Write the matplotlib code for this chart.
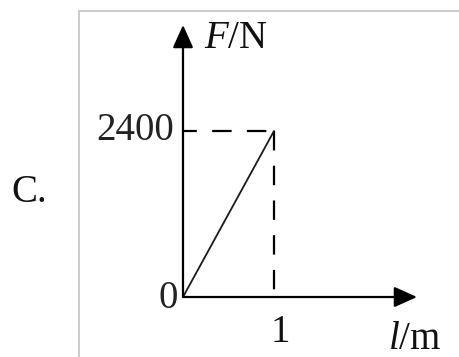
import matplotlib
matplotlib.use("Agg")
import matplotlib.pyplot as plt
from matplotlib.lines import Line2D

# Force-extension data: F grows linearly from 0 to 2400 N over 1 m
length_m = [0, 1]
force_n = [0, 2400]
x_tick_labels = ["1"]
y_tick_labels = ["2400"]
origin_label = "0"
option_label = "C."

plt.rcParams["font.family"] = ["Liberation Serif", "DejaVu Serif"]
plt.rcParams["mathtext.fontset"] = "custom"
plt.rcParams["mathtext.rm"] = "Liberation Serif"
plt.rcParams["mathtext.it"] = "Liberation Serif:italic"
plt.rcParams["lines.scale_dashes"] = False

W, H, DPI = 459, 357, 100
fig = plt.figure(figsize=(W / DPI, H / DPI), dpi=DPI)
fig.patch.set_facecolor("white")

# pixel geometry of the plot frame
ox, oy = 183, 297          # origin in pixels (from top-left)
px_per_x = 91              # pixels per metre
px_per_y = 166 / 2400      # pixels per newton

ax = fig.add_axes([0, 0, 1, 1])
ax.set_xlim((0 - ox) / px_per_x, (W - ox) / px_per_x)
ax.set_ylim((oy - H) / px_per_y, (oy - 0) / px_per_y)
ax.axis("off")

def px(x):
    return (x - ox) / px_per_x

def py(y):
    return (oy - y) / px_per_y

# light grey frame around the figure panel
fig.add_artist(Line2D([79 / W, 79 / W], [0, 1 - 11 / H], color="#c4c4c4", lw=1.2))
fig.add_artist(Line2D([79 / W, 1], [1 - 11 / H, 1 - 11 / H], color="#c4c4c4", lw=1.2))

# coordinate axes with arrow heads
arrow = dict(arrowstyle="-|>,head_length=1.0,head_width=0.45", lw=1.6,
             color="black", mutation_scale=14, shrinkA=0, shrinkB=0)
ax.annotate("", xy=(px(417), 0), xytext=(0, 0), arrowprops=arrow)
ax.annotate("", xy=(0, py(25)), xytext=(0, 0), arrowprops=arrow)

# guide lines to the end point
x_end, f_end = length_m[-1], force_n[-1]
ax.plot([0, x_end], [f_end, f_end], color="black", lw=1.6,
        linestyle=(4, (14, 11)))
ax.plot([x_end, x_end], [f_end, 0], color="black", lw=1.6,
        linestyle=(0, (14, 11)))

# the force-length line
ax.plot(length_m, force_n, color="#1a1a1a", lw=1.3, solid_capstyle="round")

fs = 28
ax.text(px(174), f_end, y_tick_labels[0], ha="right", va="center",
        fontsize=fs, color="#222222")
ax.text(px(178), py(308), origin_label, ha="right", va="baseline",
        fontsize=fs, color="#222222")
ax.text(x_end + px(280) - px(274), py(342), x_tick_labels[0], ha="center",
        va="baseline", fontsize=fs, color="#111111")
ax.text(px(204), py(39), r"$F/\mathrm{N}$", ha="left", va="center",
        fontsize=fs, color="#111111")
ax.text(px(388), py(349), r"$l/\mathrm{m}$", ha="left", va="baseline",
        fontsize=fs, color="#111111")
ax.text(px(11), py(202), option_label, ha="left", va="baseline",
        fontsize=fs, color="#111111")

fig.savefig("out.png", dpi=DPI)
